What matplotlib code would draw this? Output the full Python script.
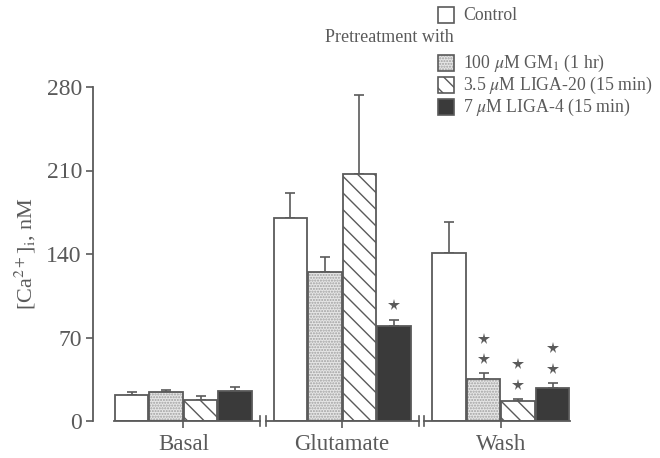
import numpy as np
import matplotlib
matplotlib.use('Agg')
import matplotlib.pyplot as plt
from matplotlib.patches import Rectangle

plt.rcParams['font.family'] = ['Liberation Serif', 'DejaVu Serif']
plt.rcParams['mathtext.fontset'] = 'stix'

groups = ['Basal', 'Glutamate', 'Wash']
series = ['Control', '100 $\\mu$M GM$_1$ (1 hr)', '3.5 $\\mu$M LIGA-20 (15 min)', '7 $\\mu$M LIGA-4 (15 min)']
means = [[22, 24, 18, 25],
         [170, 125, 207, 80],
         [141, 35, 17, 28]]
errors = [[2.5, 2, 3, 3.5],
          [21, 12.5, 66, 5],
          [26, 5, 1.5, 4]]
stars = [[0, 0, 0, 0],
         [0, 0, 0, 1],
         [0, 2, 2, 2]]
yticks = [0, 70, 140, 210, 280]

ink = '#5a5a5a'
faces = ['white', '#e6e6e6', 'white', '#3a3a3a']
hatches = [None, '......', '\\\\', None]
hatch_colors = [ink, '#a0a0a0', ink, ink]

fig = plt.figure(figsize=(6.6, 4.58), dpi=100)
ax = fig.add_axes([93 / 660, 1 - 421 / 458, 507 / 660, 334 / 458])

spacing = 4.6
width = 0.97
offsets = np.array([-1.5, -0.5, 0.5, 1.5])
centers = np.arange(len(groups)) * spacing

for g in range(len(groups)):
    for s in range(len(series)):
        x = centers[g] + offsets[s]
        # fill + hatch first (hatch takes the edge colour), then the outline
        ax.bar(x, means[g][s], width=width, color=faces[s], edgecolor=hatch_colors[s],
               linewidth=0, hatch=hatches[s], zorder=2)
        ax.bar(x, means[g][s], width=width, fill=False, edgecolor=ink,
               linewidth=1.3, zorder=2.5)
        ax.errorbar(x, means[g][s], yerr=[[0], [errors[g][s]]], color=ink,
                    capsize=3.6, elinewidth=1.2, capthick=1.2, zorder=1)
        top = means[g][s] + errors[g][s]
        for k in range(stars[g][s]):
            ax.plot(x, top + 12 + 17 * k, marker='*', color=ink, markersize=8.5,
                    markeredgewidth=0, zorder=3)

# x axis drawn in pieces with break marks
left_end = centers[0] - 2.0
right_end = centers[-1] + 2.0
breaks = [(centers[i] + centers[i + 1]) / 2 for i in range(len(groups) - 1)]
gap = 0.08
xs = [left_end]
for b in breaks:
    xs += [b - gap, b + gap]
xs.append(right_end)
for i in range(0, len(xs), 2):
    ax.plot([xs[i], xs[i + 1]], [0, 0], color=ink, lw=1.3, clip_on=False, zorder=4)
for b in breaks:
    for d in (-gap, gap):
        ax.plot([b + d, b + d], [-4, 4], color=ink, lw=1.2, clip_on=False, zorder=4)

ax.set_xlim(-2.62, 12.07)
ax.set_ylim(0, 280)
ax.set_xticks(centers)
ax.set_xticklabels(groups, fontsize=16.5, color=ink)
ax.set_yticks(yticks)
ax.set_yticklabels([str(t) for t in yticks], fontsize=17, color=ink)
ax.tick_params(axis='both', direction='out', length=5, width=1.2, color=ink, pad=3)
ax.tick_params(axis='x', pad=4)
for side in ['top', 'right', 'bottom']:
    ax.spines[side].set_visible(False)
ax.spines['left'].set_color(ink)
ax.spines['left'].set_linewidth(1.3)
ax.set_ylabel('[Ca$^{2+}$]$_{\\rm i}$, nM', fontsize=16, color=ink, labelpad=6)

# legend, drawn by hand to match the layout
box_x = 438 / 660
bw, bh = 16 / 660, 16 / 458
rows = [15, 63, 85, 107]
for s, yc in enumerate(rows):
    yf = 1 - yc / 458
    fig.add_artist(Rectangle((box_x, yf - bh / 2), bw, bh, transform=fig.transFigure,
                             facecolor=faces[s], edgecolor=hatch_colors[s], linewidth=0,
                             hatch=hatches[s]))
    fig.add_artist(Rectangle((box_x, yf - bh / 2), bw, bh, transform=fig.transFigure,
                             fill=False, edgecolor=ink, linewidth=1.2))
    fig.text(box_x + bw + 9 / 660, yf, series[s], fontsize=12.8, color=ink,
             va='center', ha='left')
fig.text(box_x + bw, 1 - 37 / 458, 'Pretreatment with', fontsize=13, color=ink,
         va='center', ha='right')

fig.savefig('out.png', dpi=100)
